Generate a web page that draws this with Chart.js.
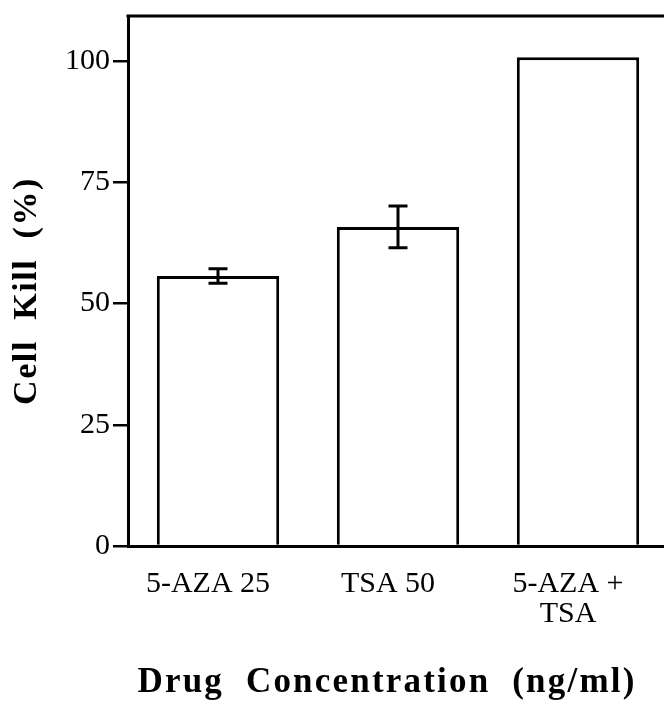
<!DOCTYPE html>
<html>
<head>
<meta charset="utf-8">
<script src="https://cdn.jsdelivr.net/npm/chart.js@4"></script>
<style>
html,body{margin:0;padding:0;background:#fff;overflow:hidden;}
#wrap{position:relative;width:668px;height:706px;}
</style>
</head>
<body>
<div id="wrap"><canvas id="c"></canvas></div>
<script>
const categories = [["5-AZA 25"], ["TSA 50"], ["5-AZA +", "TSA"]];
const cellKill = [55.7, 65.8, 100.8];
const errors = [1.5, 4.3, 0];
const yTicks = [0, 25, 50, 75, 100];
const yMax = 109.3;

const errorBarPlugin = {
  id: 'errorBars',
  afterDatasetsDraw(chart) {
    const ctx = chart.ctx;
    const meta = chart.getDatasetMeta(0);
    const ys = chart.scales.y;
    ctx.save();
    ctx.strokeStyle = '#000';
    ctx.lineWidth = 3;
    meta.data.forEach((bar, i) => {
      const e = errors[i];
      if (!e) return;
      const x = bar.x;
      const yt = ys.getPixelForValue(cellKill[i] + e);
      const yb = ys.getPixelForValue(cellKill[i] - e);
      const cap = 9.5;
      ctx.beginPath();
      ctx.moveTo(x, yt); ctx.lineTo(x, yb);
      ctx.moveTo(x - cap, yt); ctx.lineTo(x + cap, yt);
      ctx.moveTo(x - cap, yb); ctx.lineTo(x + cap, yb);
      ctx.stroke();
    });
    ctx.restore();
  }
};

const frameTopPlugin = {
  id: 'frameTop',
  afterDraw(chart) {
    const a = chart.chartArea;
    const ctx = chart.ctx;
    ctx.save();
    ctx.strokeStyle = '#000';
    ctx.lineWidth = 3;
    ctx.beginPath();
    ctx.moveTo(a.left - 1.5, a.top);
    ctx.lineTo(a.right, a.top);
    ctx.stroke();
    ctx.restore();
  }
};

const titleStylePlugin = {
  id: 'titleStyle',
  beforeDraw(chart) {
    const cfg = { x: { ls: '2.2px', dx: -11, dy: 0 }, y: { ls: '1.6px', dx: 0, dy: 10 } };
    for (const id in cfg) {
      const s = chart.scales[id];
      if (!s || s._styled) continue;
      const orig = s.drawTitle;
      const c = cfg[id];
      s.drawTitle = function () {
        const ctx = this.ctx;
        ctx.save();
        ctx.letterSpacing = c.ls;
        ctx.translate(c.dx, c.dy);
        orig.apply(this, arguments);
        ctx.restore();
      };
      s._styled = true;
    }
  }
};

new Chart(document.getElementById('c'), {
  type: 'bar',
  data: {
    labels: categories,
    datasets: [{
      data: cellKill,
      backgroundColor: '#fff',
      borderColor: '#000',
      borderWidth: 3,
      borderSkipped: 'start',
      categoryPercentage: 1,
      barPercentage: 0.68
    }]
  },
  plugins: [errorBarPlugin, frameTopPlugin, titleStylePlugin],
  options: {
    responsive: true,
    maintainAspectRatio: false,
    animation: false,
    layout: { padding: { top: 16, right: 0, left: 0, bottom: 0 } },
    plugins: { legend: { display: false }, tooltip: { enabled: false } },
    scales: {
      x: {
        grid: { display: false, drawTicks: false },
        border: { display: true, color: '#000', width: 3 },
        ticks: {
          color: '#000',
          font: { family: 'Liberation Serif', size: 30, lineHeight: 1.0 },
          padding: 23,
          labelOffset: -10,
          maxRotation: 0,
          autoSkip: false
        },
        title: {
          display: true,
          text: 'Drug  Concentration  (ng/ml)',
          color: '#000',
          font: { family: 'Liberation Serif', size: 35, weight: 'bold' },
          padding: { top: 0, bottom: 2 }
        },
        afterFit(s) { s.height = 160; s.paddingLeft = 0; s.paddingRight = 0; }
      },
      y: {
        min: 0,
        max: yMax,
        afterBuildTicks(s) { s.ticks = yTicks.map(v => ({ value: v })); },
        grid: { drawOnChartArea: false, drawTicks: true, tickLength: 15, color: '#000', lineWidth: 2.5 },
        border: { display: true, color: '#000', width: 3 },
        ticks: {
          color: '#000',
          font: { family: 'Liberation Serif', size: 30 },
          padding: 3
        },
        title: {
          display: true,
          text: 'Cell  Kill  (%)',
          color: '#000',
          font: { family: 'Liberation Serif', size: 34, weight: 'bold' },
          padding: { top: 7, bottom: 0 }
        },
        afterFit(s) { s.width = 128; s.paddingTop = 0; s.paddingBottom = 0; }
      }
    }
  }
});
</script>
</body>
</html>
